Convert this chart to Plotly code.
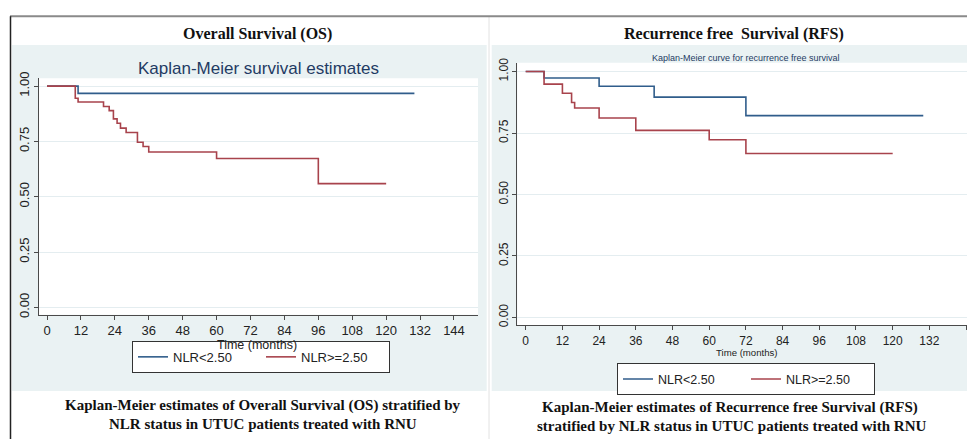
import plotly.graph_objects as go

W, H = 967, 442

# ---------------- data ----------------
group_names = ["NLR<2.50", "NLR>=2.50"]

os_low_t = [0, 11, 130]
os_low_s = [1.0, 0.967, 0.967]
os_high_t = [0, 10, 11, 20, 22, 23.5, 24.8, 26, 28, 32, 34, 36, 60, 96, 120]
os_high_s = [1.0, 0.945, 0.928, 0.908, 0.889, 0.852, 0.832, 0.810, 0.790,
             0.746, 0.727, 0.702, 0.673, 0.559, 0.559]

rfs_low_t = [0, 6, 24, 42, 72, 130]
rfs_low_s = [1.0, 0.974, 0.940, 0.896, 0.821, 0.821]
rfs_high_t = [0, 6, 12, 15, 16, 24, 36, 60, 72, 120]
rfs_high_s = [1.0, 0.949, 0.912, 0.874, 0.852, 0.811, 0.761, 0.723, 0.667, 0.667]

x_ticks = list(range(0, 145, 12))
y_ticks = [0, 0.25, 0.5, 0.75, 1.0]
y_tick_labels = ["0.00", "0.25", "0.50", "0.75", "1.00"]

# ---------------- style ----------------
BLUE = "#305D8B"
RED = "#A8434C"
BG = "#EAF2F3"
GRID = "#E4EDF0"
AX = "#4a4a4a"
SANS = "Liberation Sans, Arial, sans-serif"
SERIF = "Liberation Serif, Times New Roman, serif"
NAVY = "#1F3B63"


def px(x):
    return x / W


def py(y):
    return 1 - y / H


fig = go.Figure()

fig.add_trace(go.Scatter(x=os_low_t, y=os_low_s, mode="lines", line=dict(color=BLUE, width=1.6, shape="hv"),
                         name=group_names[0], xaxis="x", yaxis="y", legend="legend"))
fig.add_trace(go.Scatter(x=os_high_t, y=os_high_s, mode="lines", line=dict(color=RED, width=1.6, shape="hv"),
                         name=group_names[1], xaxis="x", yaxis="y", legend="legend"))
fig.add_trace(go.Scatter(x=rfs_low_t, y=rfs_low_s, mode="lines", line=dict(color=BLUE, width=1.6, shape="hv"),
                         name=group_names[0], xaxis="x2", yaxis="y2", legend="legend2"))
fig.add_trace(go.Scatter(x=rfs_high_t, y=rfs_high_s, mode="lines", line=dict(color=RED, width=1.6, shape="hv"),
                         name=group_names[1], xaxis="x2", yaxis="y2", legend="legend2"))

# plot area geometry (pixels)
L = dict(x0=39, x1=478, y0=73, y1=315)
R = dict(x0=517.3, x1=W, y0=57, y1=325.7)

common_x = dict(showline=True, linecolor=AX, linewidth=1, ticks="outside", ticklen=4, tickcolor=AX,
                tickvals=x_ticks, showgrid=False, zeroline=False, fixedrange=True)
common_y = dict(showline=True, linecolor=AX, linewidth=1, ticks="outside", ticklen=4, tickcolor=AX,
                tickvals=y_ticks, ticktext=y_tick_labels, tickangle=-90, showgrid=True,
                gridcolor=GRID, gridwidth=1, zeroline=False, fixedrange=True)

fig.update_layout(
    width=W, height=H, autosize=False,
    margin=dict(l=0, r=0, t=0, b=0, pad=0),
    paper_bgcolor="white", plot_bgcolor="white",
    xaxis=dict(domain=[px(L["x0"]), px(L["x1"])], range=[-2.83, 152.5], anchor="y",
               tickfont=dict(family=SANS, size=13, color="#222"), **common_x),
    yaxis=dict(domain=[py(L["y1"]), py(L["y0"])], range=[-0.034, 1.035], anchor="x",
               tickfont=dict(family=SANS, size=13, color="#222"), **common_y),
    xaxis2=dict(domain=[px(R["x0"]), 1.0], range=[-2.75, 144.3], anchor="y2",
                tickfont=dict(family=SANS, size=12, color="#222"), **common_x),
    yaxis2=dict(domain=[py(R["y1"]), py(R["y0"])], range=[-0.032, 1.036], anchor="x2",
                tickfont=dict(family=SANS, size=12, color="#222"), **common_y),
    legend=dict(orientation="h", x=px(261), y=py(358), xanchor="center", yanchor="middle",
                bgcolor="white", bordercolor="#333", borderwidth=1, entrywidth=83, entrywidthmode="pixels",
                font=dict(family=SANS, size=13, color="#222"), traceorder="normal"),
    legend2=dict(orientation="h", x=px(746), y=py(381), xanchor="center", yanchor="middle",
                 bgcolor="white", bordercolor="#333", borderwidth=1, entrywidth=83, entrywidthmode="pixels",
                 font=dict(family=SANS, size=12.5, color="#222"), traceorder="normal"),
    showlegend=True,
)

shapes = [
    # graph region backgrounds
    dict(type="rect", xref="paper", yref="paper", x0=px(12), x1=px(486.7), y0=py(393), y1=py(39),
         fillcolor=BG, line=dict(width=0), layer="below"),
    dict(type="rect", xref="paper", yref="paper", x0=px(491.7), x1=1.0, y0=py(393), y1=py(39),
         fillcolor=BG, line=dict(width=0), layer="below"),
    # plot region (white)
    dict(type="rect", xref="paper", yref="paper", x0=px(L["x0"]), x1=px(L["x1"]), y0=py(L["y1"]), y1=py(L["y0"]),
         fillcolor="white", line=dict(width=0), layer="below"),
    dict(type="rect", xref="paper", yref="paper", x0=px(R["x0"]), x1=1.0, y0=py(R["y1"]), y1=py(R["y0"]),
         fillcolor="white", line=dict(width=0), layer="below"),
    # frame lines
    dict(type="line", xref="paper", yref="paper", x0=px(10), x1=1.0, y0=py(9.5), y1=py(9.5),
         line=dict(color="#8a8a8a", width=2), layer="above"),
    dict(type="line", xref="paper", yref="paper", x0=px(10.5), x1=px(10.5), y0=0, y1=py(9.5),
         line=dict(color="#222", width=1.5), layer="above"),
    dict(type="line", xref="paper", yref="paper", x0=px(489), x1=px(489), y0=0, y1=py(10),
         line=dict(color="#e2e2e2", width=1), layer="below"),
]
fig.update_layout(shapes=shapes)

ann = []


def text(x, y, s, size, family=SANS, color="#222", bold=False):
    ann.append(dict(xref="paper", yref="paper", x=px(x), y=py(y), xanchor="center", yanchor="middle",
                    text=("<b>%s</b>" % s) if bold else s, showarrow=False,
                    font=dict(family=family, size=size, color=color)))


text(257, 28, "Overall Survival (OS)", 16, SERIF, "#111", True)
text(734, 28, "Recurrence free&nbsp; Survival (RFS)", 16, SERIF, "#111", True)
text(258, 63, "Kaplan-Meier survival estimates", 17, SANS, NAVY)
text(746, 52, "Kaplan-Meier curve for recurrence free survival", 9, SANS, NAVY)
text(257, 346, "Time (months)", 12.5, SANS, "#222")
text(746, 353, "Time (months)", 9.6, SANS, "#222")
text(263, 408, "Kaplan-Meier estimates of Overall Survival (OS) stratified by", 15, SERIF, "#111", True)
text(263, 427, "NLR status in UTUC patients treated with RNU", 15, SERIF, "#111", True)
text(730, 410, "Kaplan-Meier estimates of Recurrence free Survival (RFS)", 15, SERIF, "#111", True)
text(731, 429, "stratified by NLR status in UTUC patients treated with RNU", 15, SERIF, "#111", True)
fig.update_layout(annotations=ann)

fig.write_html("out.html", config={"displayModeBar": False},
               post_script="document.body.style.margin='0';")
